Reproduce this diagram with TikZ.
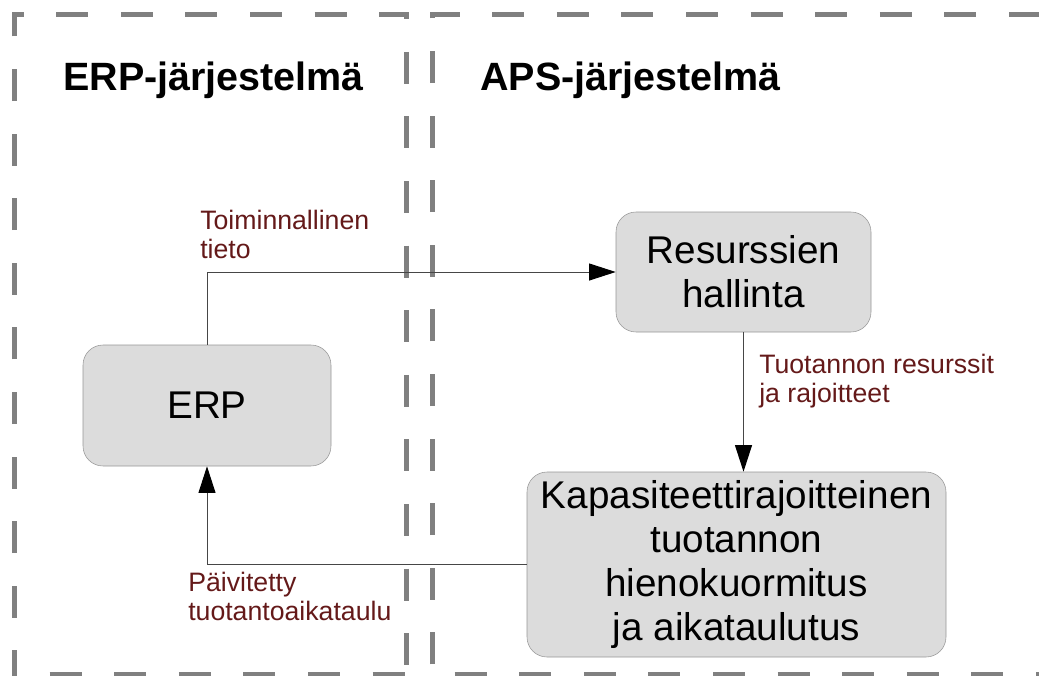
\documentclass[tikz,border=0pt]{standalone}
\usepackage{fontspec}
\setmainfont{Liberation Sans}
\usepackage{xcolor}
\usepackage{tikz}
\usetikzlibrary{arrows.meta}

\definecolor{framegray}{RGB}{128,128,128}
\definecolor{boxfill}{RGB}{220,220,220}
\definecolor{boxline}{RGB}{150,150,150}
\definecolor{lblred}{RGB}{100,25,25}
\definecolor{wiregray}{RGB}{70,70,70}

\begin{document}
\begin{tikzpicture}[
  x=0.75pt, y=-0.75pt,
  every node/.style={inner sep=0pt},
  frame/.style={draw=framegray, line width=3.75pt,
                dash pattern=on 24pt off 24.45pt},
  box/.style={draw=boxline, fill=boxfill, rounded corners=15pt, align=center,
              font=\fontsize{29}{33}\selectfont},
  title/.style={anchor=base west, font=\fontsize{29.6}{33}\selectfont\bfseries},
  lbl/.style={anchor=base west, align=left, text=lblred,
              font=\fontsize{20}{21.75}\selectfont},
  wire/.style={draw=wiregray, line width=0.75pt,
               -{Triangle[length=20pt, width=12.75pt, color=black]}},
]
  \useasboundingbox (0,0) rectangle (1039,675);
  \clip (0,0) rectangle (1039,675);

  % System frames
  \draw[frame, dash phase=42.75pt] (14,690) -- (14,14) -- (406,14) -- (406,690);
  \draw[frame, dash phase=29.25pt] (432,690) -- (432,14) -- (1050,14);
  \draw[frame, dash phase=21.75pt] (14,674) -- (406,674);
  \draw[frame, dash phase=31.5pt] (432,674) -- (1050,674);

  \node[title] (erpsys) at (63,90) {ERP-järjestelmä};
  \node[title] (apssys) at (480,90) {APS-järjestelmä};

  % Boxes
  \node[box, minimum width=186pt, minimum height=90.75pt] (erp) at (207,405.5)
    {ERP};
  \node[box, minimum width=191.25pt, minimum height=90pt] (res) at (743.5,272)
    {Resurssien\\ hallinta};
  \node[box, minimum width=314.25pt, minimum height=138.75pt] (kap) at (736.5,564.5)
    {Kapasiteettirajoitteinen\\ tuotannon\\ hienokuormitus\\ ja aikataulutus};

  % Arrows
  \draw[wire] (erp.north) |- (res.west);
  \draw[wire] (res.south) -- (res.south |- kap.north);
  \draw[wire] (kap.west) -| (erp.south);

  % Arrow labels (base = last line)
  \node[lbl] (toim) at (200,258) {Toiminnallinen\\ tieto};
  \node[lbl] (tuot) at (759,402) {Tuotannon resurssit\\ ja rajoitteet};
  \node[lbl] (paiv) at (188,620) {Päivitetty\\ tuotantoaikataulu};
\end{tikzpicture}
\end{document}
